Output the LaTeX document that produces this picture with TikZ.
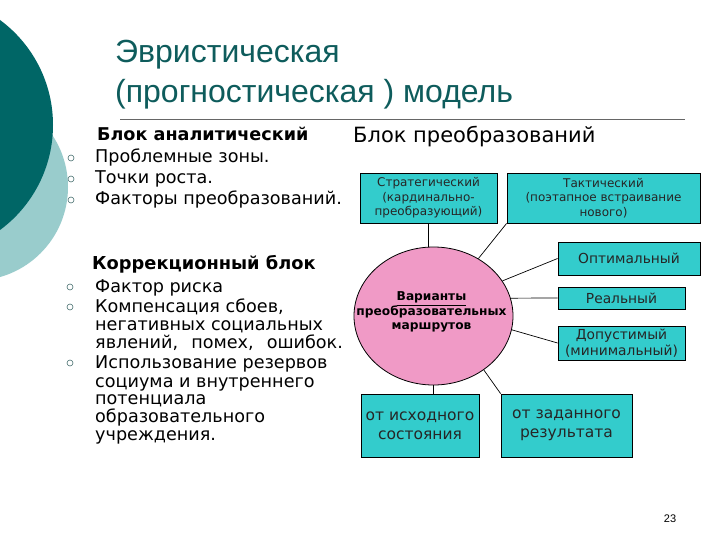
\documentclass[tikz,border=0pt]{standalone}
\usepackage{fontspec}
\setmainfont{DejaVu Sans}
\newfontfamily\titlefont{Liberation Sans}
\usetikzlibrary{shapes.geometric}
\definecolor{darkteal}{RGB}{0,102,102}
\definecolor{lightteal}{RGB}{153,204,204}
\definecolor{boxteal}{RGB}{51,204,204}
\definecolor{pinkfill}{RGB}{240,154,198}
\definecolor{titlecol}{RGB}{14,92,92}
\definecolor{bulletcol}{RGB}{70,110,110}
\tikzset{
  txt/.style={anchor=base west, inner sep=0pt, font=\fontsize{17.6}{20}\selectfont},
  hdr/.style={anchor=base west, inner sep=0pt, font=\bfseries\fontsize{17.6}{20}\selectfont},
  bul/.style={circle, draw=bulletcol, fill=white, line width=0.6pt, minimum size=6pt, inner sep=0pt},
  tbox/.style={draw=black, fill=boxteal, line width=0.8pt, inner sep=0pt, align=center, text=black!85},
  conn/.style={draw=black, line width=0.7pt},
}
\begin{document}
\begin{tikzpicture}[x=1pt,y=-1pt]
\useasboundingbox (0,0) rectangle (720,540);
\fill[white] (0,0) rectangle (720,540);
\begin{scope}
  \clip (0,0) rectangle (720,540);
  \fill[lightteal] (-25.6,187) circle[radius=93.6pt];
  \fill[darkteal] (-77.5,125) circle[radius=130.5pt];
\end{scope}

% title
\node[anchor=base west, inner sep=0pt, font=\titlefont\fontsize{32}{36}\selectfont, text=titlecol] (t1) at (115,63) {Эвристическая};
\node[anchor=base west, inner sep=0pt, font=\titlefont\fontsize{32}{36}\selectfont, text=titlecol] (t2) at (115,103) {(прогностическая )\ модель};
\draw[black!60, line width=0.6pt] (120,119) -- (685,119);

% analytic block
\node[hdr] (h1) at (97,141) {Блок аналитический};
\node[txt] (a1) at (95,163) {Проблемные зоны.};
\node[txt] (a2) at (95,184) {Точки роста.};
\node[txt] (a3) at (95,205) {Факторы преобразований.};
\node[bul] (ba1) at (71,158) {};
\node[bul] (ba2) at (71,179) {};
\node[bul] (ba3) at (71,200) {};

% correction block
\node[hdr, font=\bfseries\fontsize{17.8}{20}\selectfont] (h2) at (92,269) {Коррекционный блок};
\node[txt] (c1) at (95,292) {Фактор риска};
\node[txt] (c2) at (95,312) {Компенсация сбоев,};
\node[txt] (c3) at (95,330) {негативных социальных};
\node[txt] (c4) at (95,348) {явлений,\hspace{7.5pt} помех,\hspace{7.5pt} ошибок.};
\node[txt] (c5) at (95,368) {Использование резервов};
\node[txt] (c6) at (95,387) {социума и внутреннего};
\node[txt] (c7) at (95,404) {потенциала};
\node[txt] (c8) at (95,422) {образовательного};
\node[txt] (c9) at (95,440) {учреждения.};
\node[bul] (bc1) at (70,287) {};
\node[bul] (bc2) at (70,307) {};
\node[bul] (bc3) at (70,363) {};

% transformation block
\node[anchor=base west, inner sep=0pt, font=\fontsize{21}{24}\selectfont] (h3) at (353,143) {Блок преобразований};

\node[tbox, minimum width=137pt, minimum height=50pt, font=\fontsize{12}{14.5}\selectfont] (strat) at (428.5,198) {Стратегический\\(кардинально-\\преобразующий)};
\node[tbox, minimum width=193pt, minimum height=50pt, font=\fontsize{12}{14.5}\selectfont] (tact) at (603.5,198) {Тактический\\(поэтапное встраивание\\нового)};
\node[tbox, minimum width=142pt, minimum height=33pt, font=\fontsize{13.8}{15}\selectfont] (opt) at (629,258.5) {Оптимальный};
\node[tbox, minimum width=127pt, minimum height=22pt, font=\fontsize{13.8}{15}\selectfont] (real) at (621.5,298) {Реальный};
\node[tbox, minimum width=127pt, minimum height=34pt, font=\fontsize{13.8}{16}\selectfont] (adm) at (621.5,343) {Допустимый\\(минимальный)};

\node[ellipse, draw=black, fill=pinkfill, line width=0.8pt, minimum width=159pt, minimum height=138pt, inner sep=0pt] (ell) at (433.5,316) {};
\node[inner sep=0pt, align=center, font=\bfseries\fontsize{12.2}{13.5}\selectfont] (elltxt) at (431.5,312) {\underline{Варианты}\\преобразовательных\\маршрутов};

\node[tbox, minimum width=118pt, minimum height=63pt, font=\fontsize{15.5}{19}\selectfont] (b1) at (420,425.5) {от исходного\\состояния};
\node[tbox, minimum width=131pt, minimum height=63pt, font=\fontsize{15.5}{19}\selectfont] (b2) at (566.5,425.5) {от заданного\\результата};

% connectors
\draw[conn] (strat.south) -- (ell.north -| strat.south);
\draw[conn] (tact.south west) -- (ell.52);
\draw[conn] (opt.west) -- (ell.27);
\draw[conn] (real.west) -- (ell.13);
\draw[conn] (adm.west) -- (ell.-10);
\draw[conn] (ell.south) -- (ell.south |- b1.north);
\draw[conn] (b2.north west) -- (ell.-47);

% page number
\node[anchor=base, inner sep=0pt, font=\titlefont\fontsize{11}{13}\selectfont] (pg) at (670,522) {23};
\end{tikzpicture}
\end{document}
